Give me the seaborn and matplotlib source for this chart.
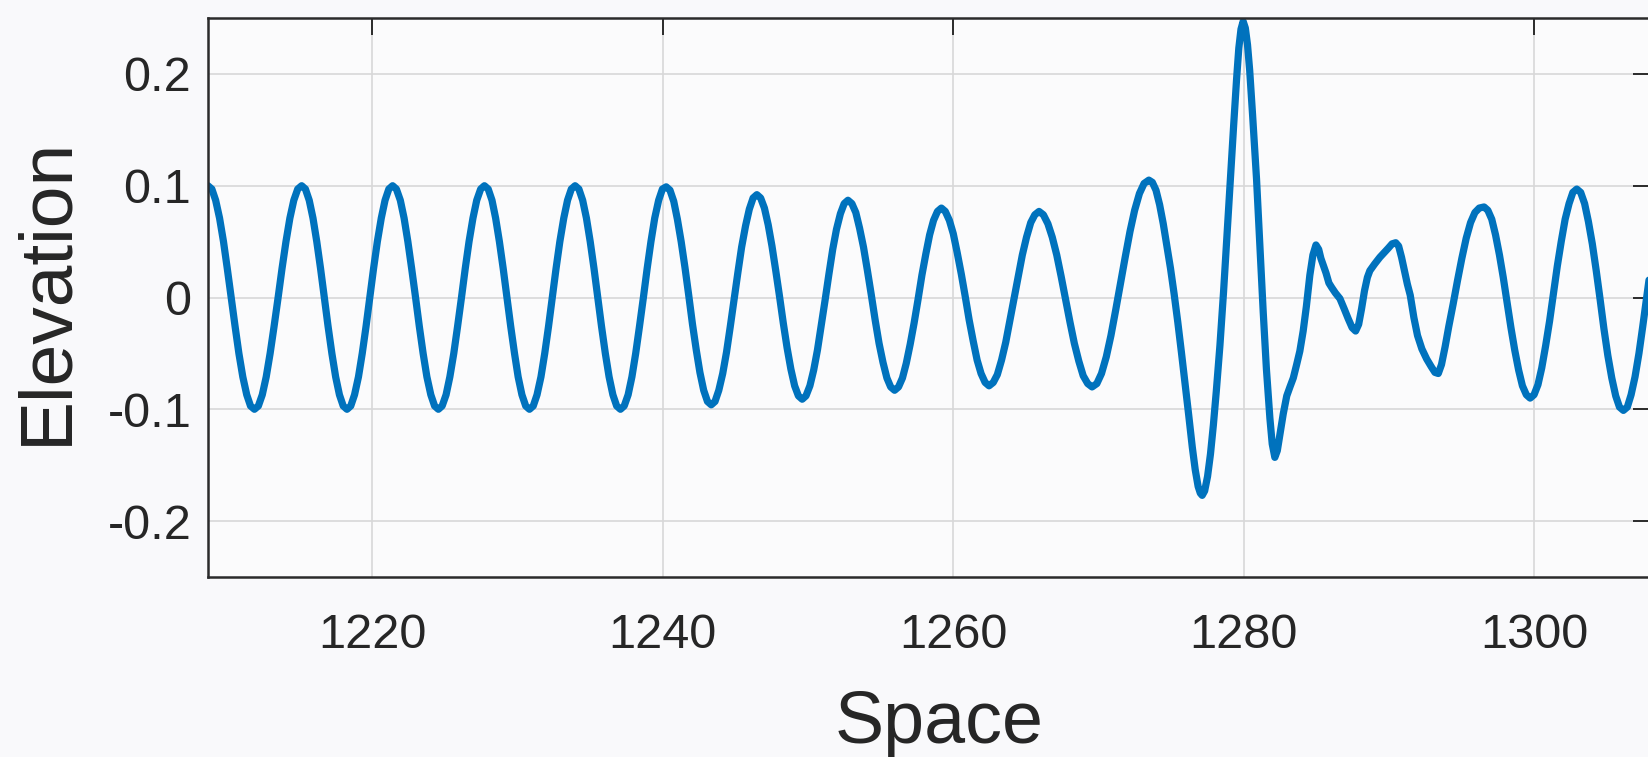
import matplotlib
matplotlib.use("Agg")
import matplotlib.pyplot as plt
import seaborn as sns
import pandas as pd

# ---- data ----
space = [
    1208.70, 1208.97, 1209.23, 1209.50, 1209.77, 1210.03, 1210.30, 1210.57, 1210.83, 1211.10, 1211.37, 1211.63,
    1211.90, 1212.17, 1212.44, 1212.71, 1212.98, 1213.25, 1213.53, 1213.80, 1214.07, 1214.34, 1214.61, 1214.88,
    1215.15, 1215.41, 1215.67, 1215.93, 1216.19, 1216.45, 1216.71, 1216.97, 1217.23, 1217.49, 1217.75, 1218.01,
    1218.27, 1218.53, 1218.79, 1219.06, 1219.32, 1219.58, 1219.84, 1220.10, 1220.36, 1220.63, 1220.89, 1221.15,
    1221.41, 1221.67, 1221.94, 1222.20, 1222.46, 1222.72, 1222.99, 1223.25, 1223.51, 1223.77, 1224.04, 1224.30,
    1224.56, 1224.82, 1225.09, 1225.35, 1225.62, 1225.88, 1226.15, 1226.41, 1226.67, 1226.94, 1227.20, 1227.47,
    1227.73, 1227.99, 1228.25, 1228.50, 1228.76, 1229.02, 1229.28, 1229.54, 1229.80, 1230.05, 1230.31, 1230.57,
    1230.83, 1231.09, 1231.35, 1231.62, 1231.88, 1232.14, 1232.40, 1232.66, 1232.92, 1233.19, 1233.45, 1233.71,
    1233.97, 1234.23, 1234.49, 1234.75, 1235.01, 1235.27, 1235.53, 1235.79, 1236.05, 1236.31, 1236.57, 1236.83,
    1237.09, 1237.35, 1237.62, 1237.88, 1238.14, 1238.40, 1238.67, 1238.93, 1239.19, 1239.45, 1239.72, 1239.98,
    1240.24, 1240.50, 1240.76, 1241.01, 1241.27, 1241.53, 1241.79, 1242.05, 1242.31, 1242.56, 1242.82, 1243.08,
    1243.34, 1243.60, 1243.86, 1244.13, 1244.39, 1244.65, 1244.91, 1245.17, 1245.43, 1245.70, 1245.96, 1246.22,
    1246.48, 1246.74, 1247.00, 1247.26, 1247.52, 1247.78, 1248.04, 1248.30, 1248.56, 1248.82, 1249.08, 1249.34,
    1249.60, 1249.86, 1250.13, 1250.39, 1250.65, 1250.91, 1251.18, 1251.44, 1251.70, 1251.96, 1252.23, 1252.49,
    1252.75, 1253.02, 1253.29, 1253.55, 1253.82, 1254.09, 1254.36, 1254.62, 1254.89, 1255.16, 1255.43, 1255.69,
    1255.96, 1256.23, 1256.50, 1256.76, 1257.03, 1257.30, 1257.57, 1257.84, 1258.11, 1258.37, 1258.64, 1258.91,
    1259.18, 1259.45, 1259.73, 1260.00, 1260.27, 1260.55, 1260.82, 1261.09, 1261.37, 1261.64, 1261.91, 1262.19,
    1262.46, 1262.75, 1263.03, 1263.32, 1263.61, 1263.89, 1264.18, 1264.47, 1264.75, 1265.04, 1265.33, 1265.61,
    1265.90, 1266.20, 1266.51, 1266.81, 1267.12, 1267.42, 1267.73, 1268.03, 1268.33, 1268.64, 1268.94, 1269.25,
    1269.55, 1269.88, 1270.20, 1270.53, 1270.85, 1271.18, 1271.51, 1271.83, 1272.16, 1272.48, 1272.81, 1273.13,
    1273.46, 1273.70, 1273.95, 1274.20, 1274.45, 1274.70, 1274.95, 1275.20, 1275.45, 1275.70, 1275.95, 1276.20,
    1276.45, 1276.65, 1276.85, 1277.00,
    1277.13, 1277.30, 1277.50, 1277.70, 1277.90, 1278.10, 1278.35, 1278.60, 1278.81, 1279.05, 1279.30, 1279.50,
    1279.65, 1279.80,
    1279.95, 1280.10, 1280.25, 1280.40, 1280.60, 1280.87, 1281.10, 1281.33, 1281.55, 1281.79, 1281.95,
    1282.13, 1282.30, 1282.50, 1282.71, 1282.95, 1283.17, 1283.40, 1283.63, 1283.85, 1284.08, 1284.30, 1284.54,
    1284.75,
    1284.96, 1285.15, 1285.30, 1285.46, 1285.65, 1285.85, 1286.04, 1286.30, 1286.61, 1286.90, 1287.18, 1287.45,
    1287.69, 1287.90, 1288.10, 1288.30, 1288.50, 1288.67, 1289.00, 1289.36, 1289.65, 1289.93, 1290.20,
    1290.45, 1290.65, 1290.85, 1291.05, 1291.25, 1291.45, 1291.70, 1291.95, 1292.25, 1292.58, 1292.90, 1293.15,
    1293.38, 1293.60, 1293.85, 1294.10, 1294.40, 1294.70, 1295.00, 1295.30, 1295.60, 1295.90, 1296.20,
    1296.53, 1296.79, 1297.06, 1297.32, 1297.59, 1297.85, 1298.12, 1298.38, 1298.64, 1298.91, 1299.17, 1299.44,
    1299.70, 1299.97, 1300.24, 1300.50, 1300.77, 1301.04, 1301.31, 1301.57, 1301.84, 1302.11, 1302.38, 1302.64,
    1302.91, 1303.18, 1303.45, 1303.71, 1303.98, 1304.25, 1304.52, 1304.78, 1305.05, 1305.32, 1305.59, 1305.85,
    1306.12, 1306.39, 1306.65, 1306.92, 1307.19, 1307.45, 1307.72, 1307.99, 1308.25,
]

elevation = [
    0.100, 0.097, 0.087, 0.071, 0.050, 0.026, 0.000, -0.026, -0.050, -0.071, -0.087, -0.097,
    -0.100, -0.097, -0.087, -0.071, -0.050, -0.026, 0.000, 0.026, 0.050, 0.071, 0.087, 0.097,
    0.100, 0.097, 0.087, 0.071, 0.050, 0.026, 0.000, -0.026, -0.050, -0.071, -0.087, -0.097,
    -0.100, -0.097, -0.087, -0.071, -0.050, -0.026, 0.000, 0.026, 0.050, 0.071, 0.087, 0.097,
    0.100, 0.097, 0.087, 0.071, 0.050, 0.026, 0.000, -0.026, -0.050, -0.071, -0.087, -0.097,
    -0.100, -0.097, -0.087, -0.071, -0.050, -0.026, 0.000, 0.026, 0.050, 0.071, 0.087, 0.097,
    0.100, 0.097, 0.087, 0.071, 0.050, 0.026, 0.000, -0.026, -0.050, -0.071, -0.087, -0.097,
    -0.100, -0.097, -0.087, -0.071, -0.050, -0.026, 0.000, 0.026, 0.050, 0.071, 0.087, 0.097,
    0.100, 0.097, 0.087, 0.071, 0.050, 0.026, 0.000, -0.026, -0.050, -0.071, -0.087, -0.097,
    -0.100, -0.097, -0.087, -0.071, -0.050, -0.026, 0.000, 0.026, 0.050, 0.071, 0.087, 0.097,
    0.099, 0.096, 0.086, 0.070, 0.050, 0.027, 0.002, -0.024, -0.047, -0.067, -0.083, -0.093,
    -0.096, -0.093, -0.083, -0.068, -0.049, -0.026, -0.002, 0.022, 0.045, 0.064, 0.079, 0.089,
    0.092, 0.089, 0.080, 0.065, 0.046, 0.024, 0.001, -0.023, -0.045, -0.064, -0.079, -0.088,
    -0.091, -0.088, -0.079, -0.065, -0.047, -0.025, -0.002, 0.021, 0.043, 0.061, 0.075, 0.084,
    0.087, 0.084, 0.076, 0.062, 0.045, 0.024, 0.002, -0.020, -0.041, -0.058, -0.072, -0.080,
    -0.083, -0.080, -0.072, -0.059, -0.042, -0.023, -0.002, 0.020, 0.039, 0.056, 0.069, 0.077,
    0.080, 0.077, 0.069, 0.057, 0.040, 0.021, 0.001, -0.020, -0.039, -0.056, -0.068, -0.076,
    -0.079, -0.076, -0.069, -0.056, -0.040, -0.021, -0.001, 0.019, 0.038, 0.054, 0.067, 0.074,
    0.077, 0.074, 0.066, 0.054, 0.038, 0.019, -0.002, -0.022, -0.041, -0.057, -0.070, -0.077,
    -0.080, -0.077, -0.068, -0.053, -0.034, -0.011, 0.013, 0.036, 0.059, 0.078, 0.093, 0.102,
    0.105, 0.103, 0.096, 0.083, 0.066, 0.046, 0.026, 0.003, -0.022, -0.049, -0.077, -0.105,
    -0.134, -0.154, -0.169, -0.175,
    -0.177, -0.173, -0.160, -0.140, -0.114, -0.084, -0.043, 0.005, 0.050, 0.100, 0.155, 0.196,
    0.223, 0.240,
    0.247, 0.241, 0.226, 0.203, 0.163, 0.106, 0.046, -0.013, -0.064, -0.108, -0.131,
    -0.143, -0.137, -0.121, -0.104, -0.088, -0.080, -0.072, -0.060, -0.048, -0.030, -0.008, 0.020,
    0.038,
    0.047, 0.043, 0.035, 0.029, 0.022, 0.013, 0.009, 0.004, -0.001, -0.010, -0.019, -0.027,
    -0.030, -0.024, -0.010, 0.006, 0.018, 0.024, 0.030, 0.036, 0.040, 0.044, 0.048,
    0.049, 0.046, 0.036, 0.024, 0.012, 0.002, -0.018, -0.034, -0.046, -0.055, -0.062, -0.067,
    -0.068, -0.060, -0.044, -0.026, -0.006, 0.015, 0.035, 0.053, 0.067, 0.076, 0.080,
    0.081, 0.078, 0.070, 0.056, 0.038, 0.018, -0.005, -0.027, -0.047, -0.065, -0.079, -0.087,
    -0.090, -0.087, -0.078, -0.063, -0.043, -0.021, 0.004, 0.028, 0.050, 0.070, 0.084, 0.094,
    0.097, 0.094, 0.084, 0.068, 0.048, 0.024, -0.002, -0.028, -0.052, -0.072, -0.088, -0.098,
    -0.101, -0.098, -0.087, -0.071, -0.050, -0.026, 0.000, 0.026, 0.050,
]

xticks = [1220, 1240, 1260, 1280, 1300]
xtick_labels = ["1220", "1240", "1260", "1280", "1300"]
yticks = [-0.2, -0.1, 0.0, 0.1, 0.2]
ytick_labels = ["-0.2", "-0.1", "0", "0.1", "0.2"]

df = pd.DataFrame({"Space": space, "Elevation": elevation})

# ---- style ----
sns.set_theme(style="whitegrid")
plt.rcParams["font.family"] = ["Liberation Sans", "DejaVu Sans"]
plt.rcParams["axes.unicode_minus"] = False

bg = "#f9f9fb"
fig = plt.figure(figsize=(16.49, 7.57), dpi=100, facecolor=bg)
ax = fig.add_axes([0.1261, 0.2378, 0.8745, 0.7384])
ax.set_facecolor("#fbfbfc")

sns.lineplot(data=df, x="Space", y="Elevation", ax=ax, estimator=None,
             sort=False, color="#0072BD", linewidth=5.2)
for l in ax.get_lines():
    l.set_linewidth(5.2)
    l.set_solid_joinstyle("round")
    l.set_solid_capstyle("round")

ax.set_xlim(1208.7, 1307.95)
ax.set_ylim(-0.25, 0.25)
ax.set_xticks(xticks)
ax.set_xticklabels(xtick_labels)
ax.set_yticks(yticks)
ax.set_yticklabels(ytick_labels)

ax.grid(True, color="#d8d8d8", linewidth=1.2)
for s in ax.spines.values():
    s.set_visible(True)
    s.set_color("#2b2b2b")
    s.set_linewidth(1.8)

ax.tick_params(direction="in", top=True, right=True, length=12, width=1.4,
               color="#2b2b2b", labelsize=35, labelcolor="#262626")
ax.tick_params(axis="x", pad=26)
ax.tick_params(axis="y", pad=12)

ax.set_xlabel("Space", fontsize=53, color="#262626")
ax.set_ylabel("Elevation", fontsize=54, color="#262626")
ax.xaxis.set_label_coords(0.507, -0.2)
ax.yaxis.set_label_coords(-0.088, 0.511)

fig.savefig("out.png", dpi=100, facecolor=bg)
